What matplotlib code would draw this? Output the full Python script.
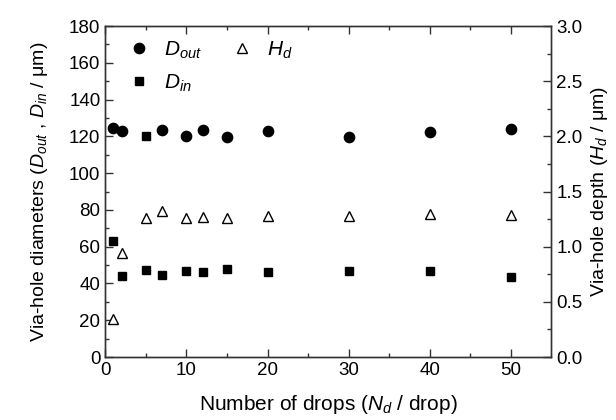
import matplotlib
matplotlib.use('Agg')
import matplotlib.pyplot as plt
from matplotlib.lines import Line2D

plt.rcParams['font.family'] = ['Liberation Sans', 'DejaVu Sans']
plt.rcParams['mathtext.fontset'] = 'custom'
plt.rcParams['mathtext.rm'] = 'Liberation Sans'
plt.rcParams['mathtext.it'] = 'Liberation Sans:italic'
plt.rcParams['font.size'] = 13

# data
drops   = [1, 2, 5, 7, 10, 12, 15, 20, 30, 40, 50]
d_out   = [124.7, 122.9, 120.3, 123.6, 120.2, 123.6, 119.6, 122.9, 119.8, 122.2, 124.0]
d_in    = [63.1, 44.0, 47.3, 44.6, 46.8, 46.4, 47.7, 46.0, 46.7, 46.8, 43.5]
h_d     = [0.34, 0.94, 1.26, 1.32, 1.26, 1.27, 1.26, 1.28, 1.28, 1.30, 1.29]
# the original shows the 5-drop D_out point as a square
out_mk  = ['o', 'o', 's', 'o', 'o', 'o', 'o', 'o', 'o', 'o', 'o']

fig = plt.figure(figsize=(6.16, 4.20), dpi=100)
ax = fig.add_axes([0.171, 0.150, 0.724, 0.788])
ax2 = ax.twinx()

for x, y, m in zip(drops, d_out, out_mk):
    ax.plot(x, y, marker=m, color='k', ls='none', ms=7.4 if m == 'o' else 6.2)
ax.plot(drops, d_in, 's', color='k', ms=6.2)
ax2.plot(drops, h_d, '^', mfc='white', mec='k', mew=1.0, ms=7.5)

ax.set_xlim(0, 55)
ax.set_ylim(0, 180)
ax2.set_ylim(0, 3.0)
ax.set_xticks(range(0, 51, 10))
ax.set_xticks(range(5, 55, 10), minor=True)
ax.set_yticks(range(0, 181, 20))
ax.set_yticks(range(10, 180, 20), minor=True)
ax2.set_yticks([0.0, 0.5, 1.0, 1.5, 2.0, 2.5, 3.0])
ax2.set_yticks([0.25, 0.75, 1.25, 1.75, 2.25, 2.75], minor=True)
ax2.set_yticklabels(['0.0', '0.5', '1.0', '1.5', '2.0', '2.5', '3.0'])

ax.tick_params(which='both', direction='in', top=True, right=False, labelsize=13.5, width=1, color='#333333')
ax.tick_params(which='major', length=6)
ax.tick_params(which='minor', length=3)
ax2.tick_params(which='both', direction='in', labelsize=13.5, width=1, color='#333333')
ax2.tick_params(which='major', length=6)
ax2.tick_params(which='minor', length=3)
for a in (ax, ax2):
    for s in a.spines.values():
        s.set_linewidth(1.0)
        s.set_color('#333333')

ax.set_xlabel(r'Number of drops ($N_d$ / drop)', fontsize=15, labelpad=10)
ax.set_ylabel(r'Via-hole diameters ($D_{out}$ , $D_{in}$ / $\mathrm{\mu}$m)', fontsize=14, labelpad=14)
ax2.set_ylabel(r'Via-hole depth ($H_d$ / $\mathrm{\mu}$m)', fontsize=14, labelpad=5)

handles = [Line2D([], [], marker='o', color='k', ls='none', ms=7.4),
           Line2D([], [], marker='s', color='k', ls='none', ms=6.2),
           Line2D([], [], marker='^', mfc='white', mec='k', mew=1.0, ls='none', ms=7.5)]
labels = [r'$D_{out}$', r'$D_{in}$', r'$H_d$']
ax2.legend(handles, labels, ncol=2, loc='upper left', frameon=False, fontsize=15,
           handlelength=1.2, handletextpad=0.6, columnspacing=1.3, labelspacing=0.55,
           bbox_to_anchor=(0.018, 1.0), borderaxespad=0.25)

fig.savefig('out.png', dpi=100)
